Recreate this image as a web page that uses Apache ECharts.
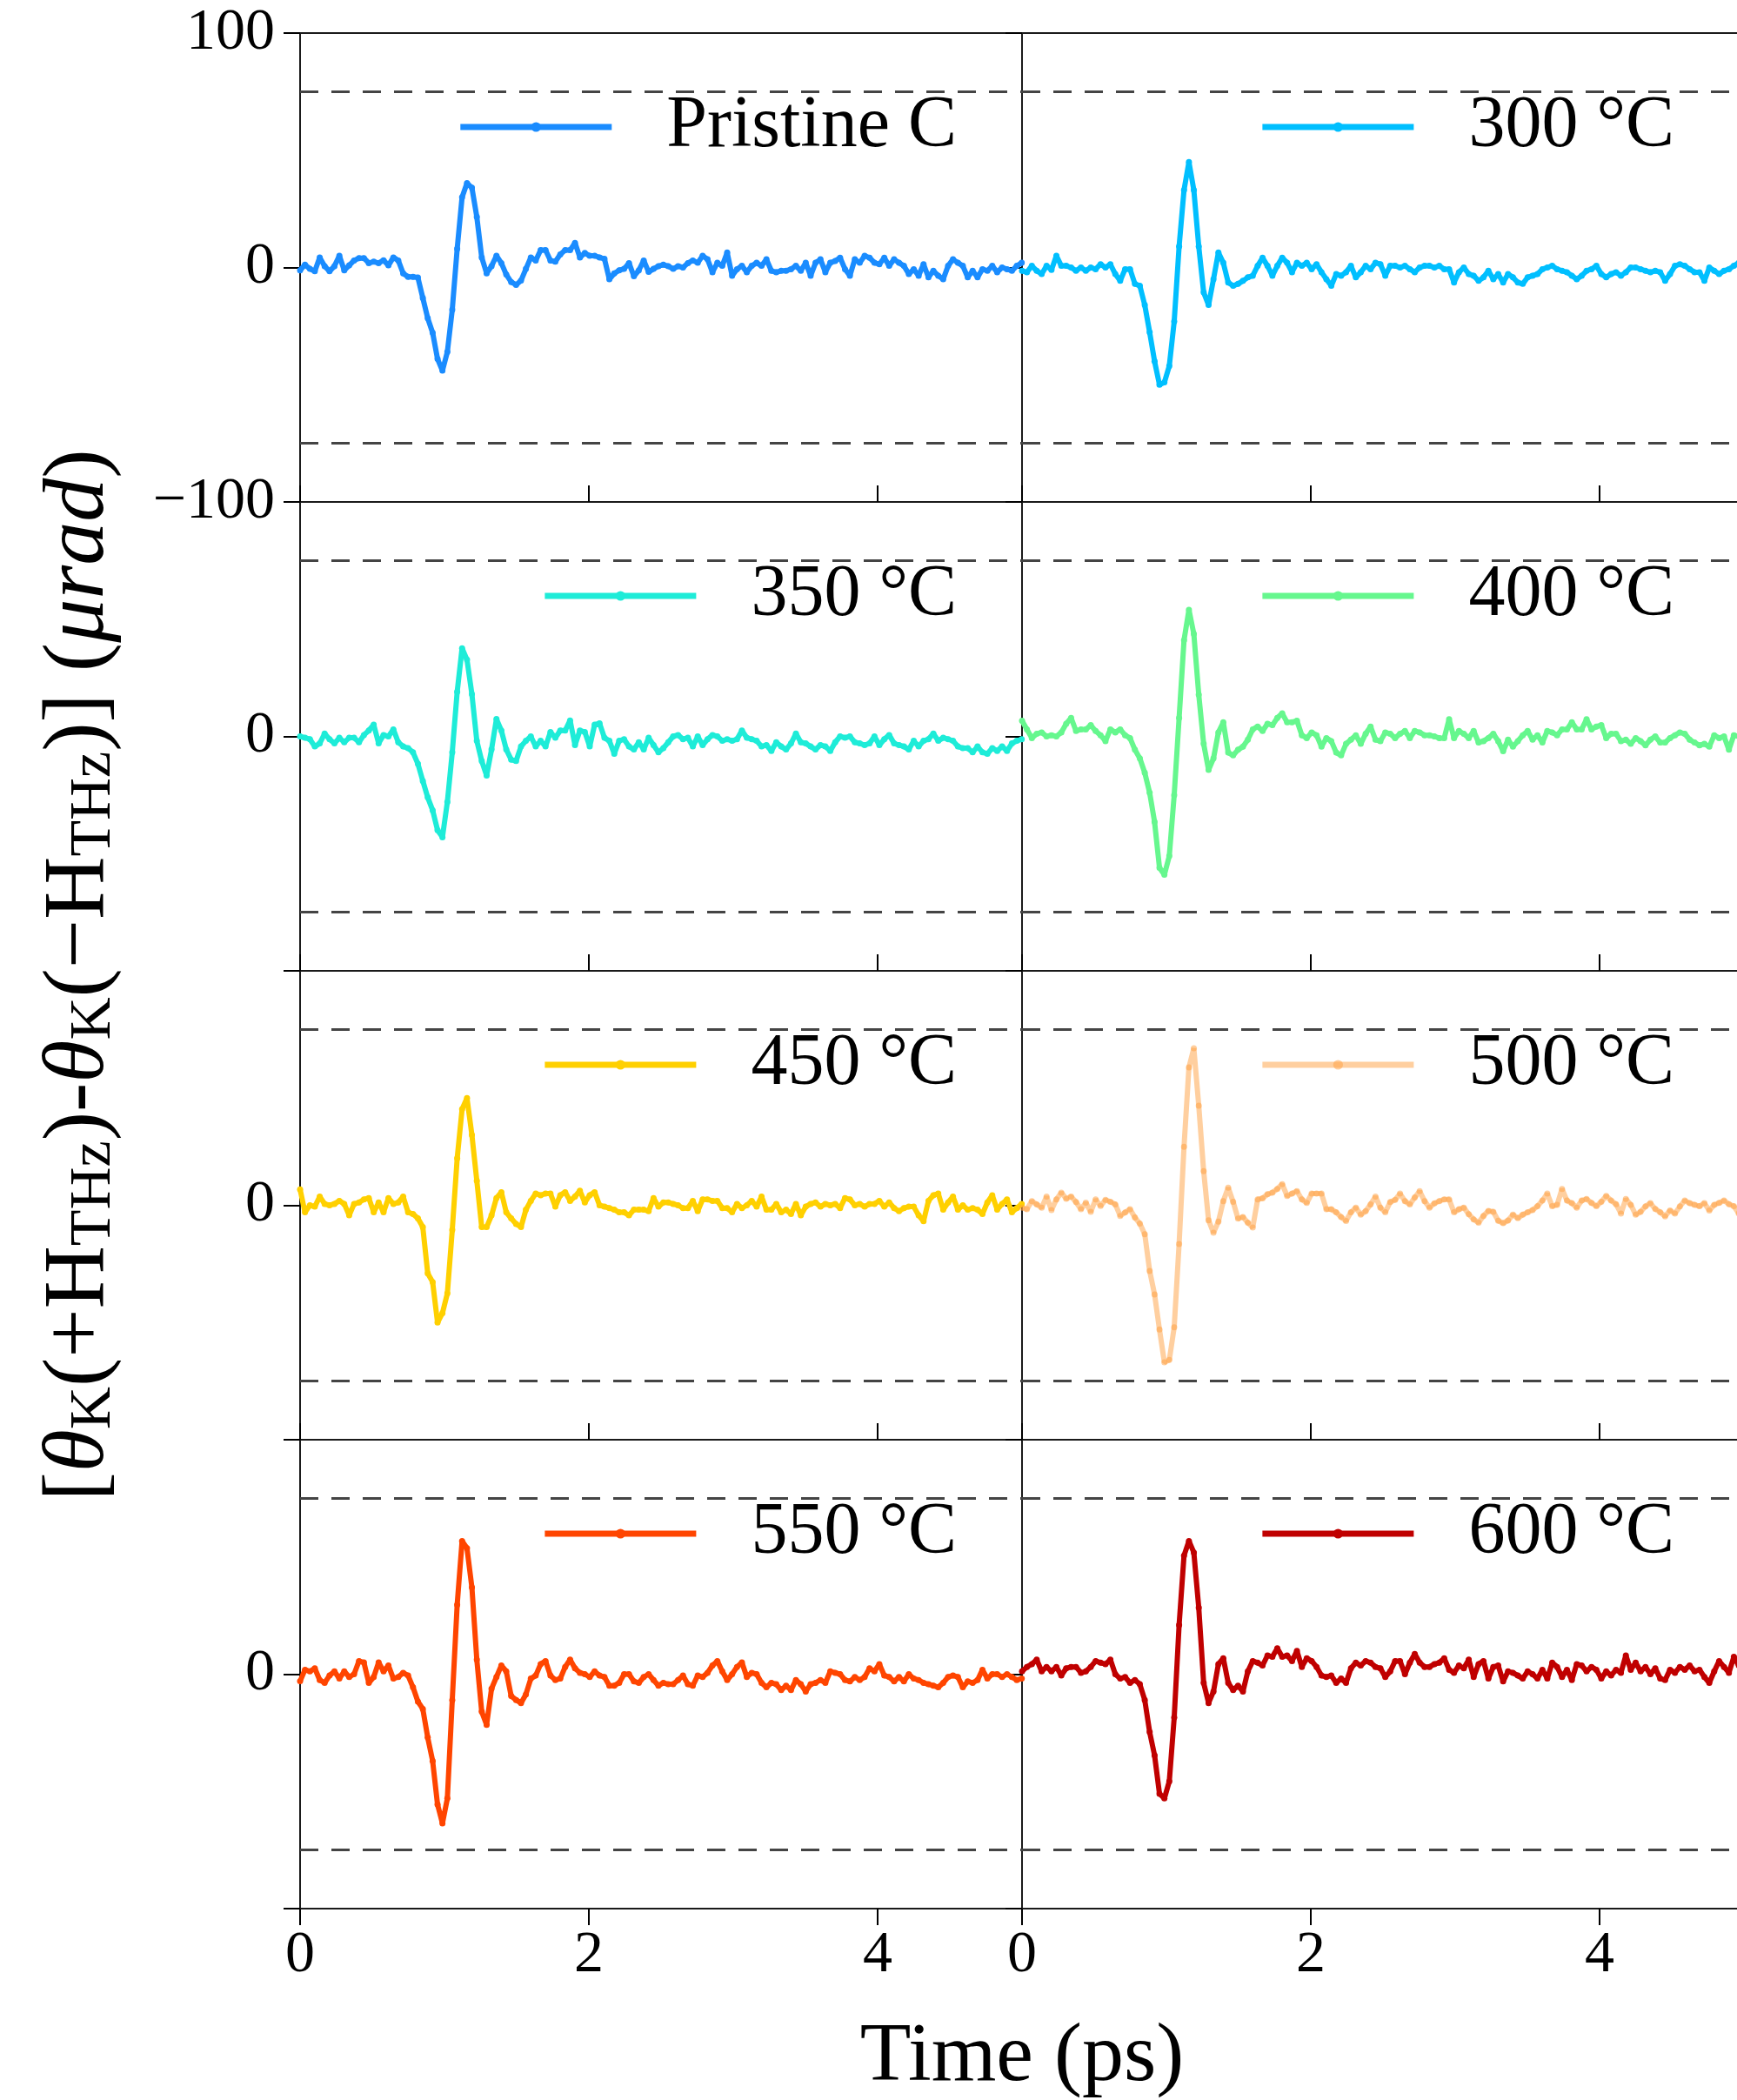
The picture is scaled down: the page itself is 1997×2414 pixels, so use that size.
<!DOCTYPE html>
<html>
<head>
<meta charset="utf-8">
<script src="https://cdn.jsdelivr.net/npm/echarts@6/dist/echarts.min.js"></script>
<style>
  html, body { margin: 0; padding: 0; background: #fff; }
  #chart { width: 1997px; height: 2414px; }
</style>
</head>
<body>
<div id="chart"></div>
<script>
// Delay-stage step between samples (ps); every trace starts at 0 ps.
const DT = 0.034;

const NAMES = ['Pristine C', '300 °C', '350 °C', '400 °C', '450 °C', '500 °C', '550 °C', '600 °C'];
const X_TICKS = [0, 2, 4];
const Y_TICKS = [-100, 0, 100];
const THRESHOLD = 75;

// Kerr-rotation difference traces (µrad), one value per delay step
const pristine = [
  -1.2, 1.2, -0.6, -1.6, 4.3, 0.6, -1.6, 0.6, 5.0, -1.2,
  0.9, 3.0, 4.0, 4.0, 1.9, 2.5, 1.9, 3.1, 0.9, 4.3,
  3.0, -2.5, -4.0, -4.0, -4.3, -13, -21.6, -27.8, -39, -44,
  -36, -18, 8, 30, 36, 34, 21.6, 4.3, -2.5, 0.6,
  5.0, 1.9, -3.0, -6.2, -7.4, -5.6, -0.6, 4.3, 3.0, 7.4,
  7.4, 3.0, 2.5, 5.6, 7.4, 7.4, 10.5, 4.3, 6.2, 5.0,
  5.0, 4.3, 3.7, -5.0, -2.5, -1.2, -0.6, 1.9, -3.7, -1.2,
  3.0, -1.9, -0.6, 0.6, 1.2, 0.6, -0.6, 0.6, 0.0, 1.9,
  3.0, 2.0, 5.0, 3.5, -2.0, 2.0, 0.7, 6.4, -3.5, -0.7,
  0.7, -2.0, 0.7, 2.0, 0.7, 3.5, -1.4, -2.0, -1.4, -1.4,
  -0.7, 0.7, -1.4, 2.0, -3.5, 2.0, 3.5, -2.0, 2.0, 2.8,
  4.2, -0.7, -3.5, 3.5, 2.0, 5.0, 4.2, 2.0, 1.4, 4.2,
  0.7, 3.5, 2.0, 0.7, -2.8, -0.7, -3.5, 1.4, -4.2, -1.4,
  -3.5, -5.0, 0.7, 3.5, 2.0, 0.7, -4.2, -1.4, -4.2, -0.7,
  -1.4, 0.7, -2.0, 0.0, -0.7, -1.4, 0.7, 2.0
];
const t300 = [
  -1.4, -2.0, 0.7, -1.4, -2.8, 0.7, -1.0, 5.0, 0.7, 0.7,
  0.0, -1.4, 0.0, -1.4, 0.0, -0.7, 1.4, 0.0, 1.4, -2.8,
  -5.7, -0.7, -0.7, -7.0, -7.8, -16, -27.6, -40, -50, -49,
  -42, -23, 9, 33, 45, 33, 9, -10.6, -16, -5.0,
  6.4, 2.0, -6.4, -7.8, -7.0, -5.7, -4.2, -3.5, 0.7, 4.2,
  0.7, -3.5, 0.7, 4.2, 2.0, -2.0, 2.0, 0.7, 2.0, -0.7,
  1.4, -2.0, -5.0, -7.8, -2.8, -3.5, -2.0, 0.7, -4.2, -2.0,
  0.7, -0.7, 2.0, 1.4, -3.5, 0.7, 0.7, 0.0, 0.7, -0.7,
  -2.0, 0.0, 0.7, 0.7, 0.0, 0.7, -0.7, -0.7, -6.4, -2.0,
  0.0, -2.8, -3.5, -5.7, -4.2, -1.4, -5.0, -2.8, -6.4, -2.8,
  -4.2, -6.4, -7.0, -4.2, -3.5, -2.8, -0.7, 0.0, 0.7, -0.7,
  -1.4, -2.0, -3.5, -5.0, -3.5, -1.4, -0.7, 0.7, -2.8, -4.2,
  -2.8, -2.0, -3.5, -2.0, 0.0, 0.0, -0.7, -1.4, -2.0, -1.4,
  -2.0, -5.7, -2.8, 0.7, 1.4, 0.7, -0.7, -2.0, -2.0, -5.7,
  0.0, -1.4, -2.8, -1.4, -0.7, 0.7, 2.0, -0.7
];
const t350 = [
  0.0, -0.6, -1.2, -4.3, -3.0, 1.2, -1.2, -3.0, -0.6, -2.5,
  -0.6, -0.6, -2.5, 0.6, 2.5, 5.0, -3.0, 0.6, 0.0, 3.0,
  -2.5, -4.3, -5.0, -6.8, -11.7, -19, -26, -31.5, -40, -43,
  -28, -6.8, 19, 37.6, 32.7, 18, -1.9, -10.5, -16.7, -5.6,
  7.4, 2.5, -5.6, -9.9, -10.5, -4.3, -1.9, 0.0, -4.3, -1.9,
  -4.3, 1.9, -0.6, 2.5, 2.5, 6.8, -3.7, 2.5, 1.9, -4.3,
  5.0, 5.6, -0.6, -1.9, -7.4, -1.9, -1.2, -4.3, -5.6, -2.5,
  -5.6, -0.6, -3.7, -6.8, -5.0, -2.5, 0.0, 0.6, -1.2, -0.6,
  -4.3, 0.0, -3.7, -1.2, 0.6, 0.0, -1.9, -1.2, -1.9, -1.2,
  2.5, -0.6, -1.2, -1.9, -4.3, -3.7, -6.2, -2.5, -4.3, -5.6,
  -3.0, 1.2, -2.5, -3.0, -4.3, -5.6, -3.7, -4.3, -6.2, -2.5,
  0.0, -0.6, 0.0, -2.5, -3.0, -3.7, -3.0, 0.0, -3.7, -1.2,
  0.6, -3.0, -3.7, -4.3, -5.6, -1.9, -4.3, -1.9, -1.2, 1.2,
  -1.9, -0.6, -1.2, -1.9, -4.3, -5.0, -5.0, -6.8, -4.3, -6.8,
  -7.4, -5.0, -6.2, -4.3, -6.2, -3.0, -1.9, -1.2
];
const t400 = [
  6.7, 3.0, -0.7, 1.1, 1.7, 0.0, 0.5, 0.0, 1.7, 5.4,
  7.9, 2.3, 3.0, 3.0, 4.8, 2.3, 0.5, -2.0, 3.0, 1.7,
  3.0, 0.5, -0.7, -5.7, -9.4, -15.5, -24, -36.5, -56, -59,
  -51, -25, 7.9, 41, 54, 43.7, 17.8, -3.2, -14.3, -9.4,
  1.7, 6.0, -6.9, -8.1, -5.7, -4.4, -1.4, 3.0, 4.2, 2.3,
  5.4, 4.8, 7.9, 9.8, 6.0, 6.0, 6.7, 0.5, -0.7, 1.7,
  0.5, -4.4, -0.7, -2.0, -6.9, -8.1, -3.2, -1.4, 0.5, -3.2,
  1.1, 4.2, -1.4, -2.0, 1.7, 1.1, -0.7, 1.1, 2.3, -0.7,
  2.3, 1.7, 0.5, 0.5, 0.0, -0.7, -0.7, 7.3, -0.7, 2.3,
  1.1, -0.7, 2.3, -2.6, -2.0, -0.7, 1.1, -2.0, -6.3, -1.4,
  -4.4, -2.0, 0.5, 2.3, -1.4, 0.5, -2.6, 2.3, 1.7, 0.5,
  3.0, 3.0, 6.0, 3.0, 3.0, 7.3, 3.0, 4.2, 4.8, -0.7,
  1.1, 1.1, -2.0, -1.4, -3.2, -0.7, -2.0, -3.8, -1.4, 0.0,
  -2.6, -2.6, -0.7, 0.5, 1.7, 1.1, -1.4, -2.6, -3.8, -3.2,
  -4.4, 0.5, -0.7, 0.0, -5.7, 0.5, 0.0, -0.7
];
const t450 = [
  6.8, -3.0, 0.0, -0.6, 3.7, 0.6, 0.0, 0.6, 1.9, 0.6,
  -4.3, 0.6, 1.2, 2.5, 3.1, -3.0, 1.2, -3.0, 3.1, 0.6,
  1.2, 3.7, -3.0, -3.7, -5.6, -9.3, -29, -32.7, -50, -46,
  -37.6, -10.5, 20, 41, 45.7, 30, 10.5, -9.3, -9.3, -4.3,
  3.1, 5.6, -3.0, -5.6, -8.0, -9.3, -1.9, 1.9, 5.0, 4.3,
  5.0, 5.0, -0.6, 4.3, 5.6, 1.9, 3.7, 6.2, 1.2, 4.3,
  5.6, 0.0, -0.6, -1.2, -1.9, -3.0, -3.0, -4.3, -1.9, -1.9,
  -1.9, -2.5, 3.1, -0.6, 1.2, 1.2, 0.6, 0.0, -1.2, -1.2,
  1.9, -2.5, 2.5, 2.5, 1.9, 1.9, -1.2, -1.2, -3.0, 0.6,
  -1.2, 0.0, 1.9, -0.6, 3.7, -1.9, -1.9, 0.6, -3.0, -1.9,
  -3.7, 0.6, -4.3, -0.6, 0.6, 1.2, -0.6, 0.6, 0.0, 0.6,
  -1.2, 3.1, 2.5, 0.0, 0.6, -0.6, 0.6, 0.6, 1.9, -0.6,
  1.2, -1.2, -2.5, -1.2, -0.6, -0.6, -4.3, -6.8, 1.9, 4.3,
  5.0, -1.9, 1.2, 3.7, -1.9, 0.0, -1.9, -1.2, -1.9, -3.7,
  1.2, 4.3, -1.9, 0.6, 2.5, -3.0, -1.2, 0.6
];
const t500 = [
  -1.0, -1.7, 1.8, 0.4, -1.0, 3.7, -2.0, 2.5, 5.4, 2.8,
  3.7, 1.4, -1.7, 1.1, -2.8, 2.5, -0.3, 2.3, 1.5, 0.4,
  -4.5, -3.1, -1.7, -5.2, -7.8, -12.3, -28, -38, -53, -67,
  -66, -52, -16.5, 25, 58.8, 67, 42.5, 14.6, -6.4, -11.7,
  -7.0, 1.8, 7.5, 1.5, -5.7, -5.0, -7.4, -9.5, 2.5, 3.0,
  4.7, 5.4, 7.0, 9.0, 4.0, 5.0, 6.0, 2.5, 1.0, 5.0,
  5.0, 5.0, -1.7, -1.7, -3.0, -5.0, -6.7, -3.0, -1.0, -4.0,
  -2.5, 0.4, 3.7, -1.0, -3.0, 1.4, 2.3, 5.0, 1.8, 0.4,
  3.3, 6.0, 1.8, -1.0, 0.8, 1.8, 2.5, 2.5, -3.0, -1.7,
  -1.0, -3.8, -6.0, -7.4, -4.5, -2.4, -2.8, -6.6, -7.6, -6.5,
  -4.0, -5.5, -4.0, -3.0, -2.0, -0.4, 2.0, 5.0, -0.4, 0.2,
  7.0, 2.0, 0.9, -1.0, 2.0, 2.7, 1.0, -0.4, 1.5, 4.0,
  2.0, 0.5, -3.5, 2.7, 0.2, -4.0, -2.8, -0.5, 0.9, -1.6,
  -3.0, -4.7, -2.2, -3.5, -0.5, 2.0, 0.9, 0.2, -0.4, 0.9,
  -2.2, 0.2, 1.0, 2.0, 0.5, -0.4, -3.5, -3.0
];
const t550 = [
  -3.0, 1.9, 1.2, 2.5, -2.5, -3.7, -0.6, 1.2, -1.9, 1.2,
  -1.2, 0.0, 5.6, 5.0, -3.7, -1.2, 5.0, 1.2, 3.7, -1.9,
  -1.2, 0.6, -0.6, -5.6, -11.7, -14.8, -27, -37, -55.6, -63.6,
  -53, -11, 29.6, 56.8, 53.7, 37, 6.2, -16, -21.6, -6.2,
  -1.2, 3.7, 1.2, -9.3, -11, -12.3, -8.6, -1.9, -0.6, 4.3,
  5.6, -0.6, -2.5, -1.9, 3.1, 6.2, 2.5, 0.6, 0.0, -1.2,
  1.2, -0.6, -1.2, -4.9, -4.9, -3.7, 0.0, 0.0, -3.1, -3.7,
  -1.2, 0.0, -2.5, -4.9, -3.7, -4.3, -4.3, -2.5, -0.6, -4.3,
  -4.9, -0.6, -1.2, 0.6, 3.7, 5.6, 1.2, -2.5, 0.0, 3.1,
  5.0, -1.2, 0.6, 0.0, -3.7, -5.6, -3.7, -4.3, -6.8, -4.9,
  -6.8, -2.5, -4.3, -7.4, -4.3, -3.7, -2.5, -3.7, 1.2, 0.6,
  0.0, -2.5, -3.1, -1.2, -2.5, -1.2, 2.5, 1.2, 4.3, -0.6,
  -1.2, -3.1, -1.2, -3.1, 0.0, -1.9, -2.5, -3.7, -4.3, -4.9,
  -5.6, -3.7, -1.2, -0.6, -1.2, -5.6, -3.1, -3.7, -2.5, 1.9,
  -1.9, 0.0, 0.0, -1.2, 0.0, -1.2, -2.5, -1.9
];
const t600 = [
  1.2, 3.1, 4.3, 6.2, 1.2, 3.1, 1.2, 3.1, -0.6, 2.5,
  3.1, 3.1, 0.6, 1.2, 3.1, 5.6, 4.9, 4.3, 6.2, 0.0,
  -1.9, -1.2, -3.7, -2.5, -4.3, -11, -24.7, -34.6, -51, -53,
  -45.7, -18.5, 21, 50.6, 56.8, 51.9, 28.4, -3.7, -12.3, -7.4,
  4.3, 6.8, -3.7, -6.8, -4.9, -7.4, 1.2, 5.6, 4.9, 3.7,
  8.0, 7.4, 11, 7.4, 8.0, 5.6, 9.9, 3.1, 6.8, 5.6,
  3.1, -0.6, -1.2, -0.6, -3.7, -1.9, -3.7, 2.5, 4.9, 3.7,
  5.6, 4.9, 3.1, 2.5, -1.2, 1.2, 5.6, 5.6, 0.0, 4.9,
  8.6, 4.9, 3.1, 3.1, 4.3, 4.9, 6.8, 1.9, 0.6, 3.7,
  2.5, 6.2, -1.2, 4.3, 5.6, -1.9, 3.1, 3.7, -3.1, 1.2,
  0.6, -0.6, -1.9, 1.2, 0.0, -1.9, 1.9, -1.9, 4.9, 3.1,
  -1.2, 1.9, -2.5, 4.3, 3.7, 1.2, 3.1, 1.9, -1.9, 1.2,
  -0.6, 1.9, 0.6, 8.0, 1.9, 4.9, 1.2, 3.1, 0.0, 2.5,
  -1.9, -2.5, 1.9, 0.6, 3.1, 1.9, 3.7, 1.2, 1.9, -1.2,
  -3.7, 1.2, 5.6, 3.1, 0.6, 7.4, 3.7, 3.1
];

const TRACES = [pristine, t300, t350, t400, t450, t500, t550, t600];

// Styling
const COLORS = ['#1a8cff', '#00bfff', '#1eecd8', '#66f78e', '#ffd000', '#ffa040', '#ff4500', '#c00000'];
const OPACITY = [1, 1, 1, 1, 1, 0.5, 1, 1];
const FONT = '"Liberation Serif", "DejaVu Serif", "Times New Roman", serif';
const ROW_TOP = [38, 577, 1116, 1655];
const ROW_H = 539;
const COL_LEFT = [345, 1175];
const COL_W = 830;

const grids = [], xAxes = [], yAxes = [], series = [], legends = [];

TRACES.forEach((trace, g) => {
  const row = Math.floor(g / 2), col = g % 2;
  const bottomRow = row === 3;

  grids.push({
    left: COL_LEFT[col], top: ROW_TOP[row], width: COL_W, height: ROW_H,
    outerBoundsMode: 'none', containLabel: false,
    show: true, borderColor: '#1a1a1a', borderWidth: 2, backgroundColor: 'transparent'
  });

  xAxes.push({
    gridIndex: g, type: 'value', min: 0, max: 5, interval: 2,
    position: 'bottom',
    axisLine: { show: false, onZero: false },
    splitLine: { show: false },
    axisTick: {
      show: true, inside: !bottomRow, length: 19, customValues: X_TICKS,
      lineStyle: { color: '#000', width: 2 }
    },
    axisLabel: {
      show: bottomRow, customValues: X_TICKS, margin: 20,
      fontFamily: FONT, fontSize: 68, color: '#000',
      formatter: v => (X_TICKS.indexOf(v) >= 0 ? String(v) : '')
    }
  });

  const shownY = row === 0 ? Y_TICKS : [0];
  yAxes.push({
    gridIndex: g, type: 'value', min: -100, max: 100, interval: 100,
    position: 'left',
    axisLine: { show: false, onZero: false },
    splitLine: { show: false },
    axisTick: {
      show: true, inside: false, length: 19,
      lineStyle: { color: '#000', width: 2 }
    },
    axisLabel: {
      show: col === 0, margin: 29,
      fontFamily: FONT, fontSize: 68, color: '#000',
      formatter: v => (shownY.indexOf(v) >= 0 ? (v < 0 ? '\u2212' + (-v) : String(v)) : '')
    }
  });

  series.push({
    name: NAMES[g], type: 'line',
    xAxisIndex: g, yAxisIndex: g,
    data: trace.map((v, i) => [Math.round(i * DT * 1000) / 1000, v]),
    symbol: 'circle', symbolSize: 7, showSymbol: true, showAllSymbol: true,
    lineStyle: { color: COLORS[g], width: 6, opacity: OPACITY[g] },
    itemStyle: { color: COLORS[g], opacity: OPACITY[g] },
    z: 3,
    markLine: {
      silent: true, symbol: 'none', animation: false,
      label: { show: false },
      lineStyle: { color: '#444', width: 3, type: [21, 15], opacity: 1 },
      data: [{ yAxis: THRESHOLD }, { yAxis: -THRESHOLD }]
    }
  });

  legends.push({
    data: [NAMES[g]],
    right: col === 0 ? 892 : 67,
    top: ROW_TOP[row] + 61,
    itemWidth: 174, itemHeight: 14, selectedMode: false,
    lineStyle: { width: 7 },
    textStyle: { fontFamily: FONT, fontSize: 84, color: '#000', padding: [0, 0, 0, 58] }
  });
});

const chart = echarts.init(document.getElementById('chart'), null, { renderer: 'canvas' });
chart.setOption({
  animation: false,
  backgroundColor: '#fff',
  grid: grids,
  xAxis: xAxes,
  yAxis: yAxes,
  legend: legends,
  series: series,
  graphic: [
    {
      type: 'text', x: 1175, y: 2366,
      style: {
        text: 'Time (ps)', fontFamily: FONT, fontSize: 96, fill: '#000',
        align: 'center', verticalAlign: 'middle'
      }
    },
    {
      type: 'text', x: 92, y: 1121, rotation: Math.PI / 2,
      style: {
        text: '{b|[}{i|θ}{s|K}{b|(+H}{s|THz}{b|)-}{i|θ}{s|K}{b|(\u2212H}{s|THz}{b|)] (}{i|μrad}{b|)}',
        fontFamily: FONT, fontSize: 100, fill: '#000',
        align: 'center', verticalAlign: 'middle',
        rich: {
          b: { fontFamily: FONT, fontSize: 100, lineHeight: 100, fill: '#000' },
          i: { fontFamily: FONT, fontSize: 100, lineHeight: 100, fontStyle: 'italic', fill: '#000' },
          s: { fontFamily: FONT, fontSize: 68, lineHeight: 40, verticalAlign: 'bottom', fill: '#000' }
        }
      }
    }
  ]
});
</script>
</body>
</html>
